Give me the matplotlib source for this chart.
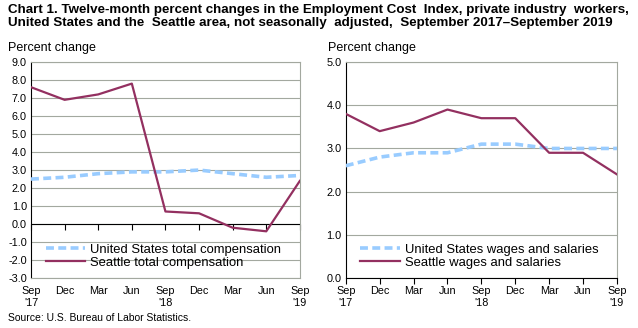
import numpy as np
import matplotlib.pyplot as plt

plt.rcParams['font.family'] = ['Liberation Sans', 'DejaVu Sans']

quarters = ["Sep\n'17", "Dec", "Mar", "Jun", "Sep\n'18", "Dec", "Mar", "Jun", "Sep\n'19"]

us_total = [2.5, 2.6, 2.8, 2.9, 2.9, 3.0, 2.8, 2.6, 2.7]
seattle_total = [7.6, 6.9, 7.2, 7.8, 0.7, 0.6, -0.2, -0.4, 2.4]

us_wages = [2.6, 2.8, 2.9, 2.9, 3.1, 3.1, 3.0, 3.0, 3.0]
seattle_wages = [3.8, 3.4, 3.6, 3.9, 3.7, 3.7, 2.9, 2.9, 2.4]

us_color = '#99CCFF'
sea_color = '#933060'
grid_color = '#A3A89F'

fig = plt.figure(figsize=(6.38, 3.28), dpi=100)

fig.text(0.013, 0.988, "Chart 1. Twelve-month percent changes in the Employment Cost  Index, private industry  workers,\n"
         "United States and the  Seattle area, not seasonally  adjusted,  September 2017\u2013September 2019",
         ha='left', va='top', fontsize=9.6, fontweight='bold', linespacing=1.1)

ax1 = fig.add_axes([0.0486, 0.152, 0.4214, 0.659])
ax2 = fig.add_axes([0.542, 0.152, 0.425, 0.659])

x = np.arange(len(quarters))


def style(ax, ymin, ymax, us, sea, us_lab, sea_lab):
    ax.plot(x, us, color=us_color, lw=2.6, dashes=(2.2, 1.2), label=us_lab, zorder=3)
    ax.plot(x, sea, color=sea_color, lw=1.6, label=sea_lab, zorder=4)
    ax.set_xlim(0, len(quarters) - 1)
    ax.set_ylim(ymin, ymax)
    ax.set_yticks(np.arange(ymin, ymax + 0.5, 1.0))
    ax.set_yticklabels(['%.1f' % v for v in np.arange(ymin, ymax + 0.5, 1.0)])
    ax.yaxis.grid(True, color=grid_color, lw=0.8)
    ax.set_axisbelow(True)
    ax.set_xticks(x)
    ax.set_xticklabels(quarters)
    ax.tick_params(axis='y', length=0, labelsize=7.8, pad=3)
    ax.tick_params(axis='x', labelsize=7.8, pad=4)
    for s in ['top', 'right']:
        ax.spines[s].set_color(grid_color)
        ax.spines[s].set_linewidth(0.8)
    ax.spines['left'].set_color('black')
    ax.spines['left'].set_linewidth(0.8)
    ax.legend(loc='lower left', bbox_to_anchor=(0.02, 0.0), frameon=False, fontsize=9.4,
              handlelength=3.0, handletextpad=0.4, labelspacing=0.1, borderaxespad=0.3)


style(ax1, -3.0, 9.0, us_total, seattle_total,
      'United States total compensation', 'Seattle total compensation')
style(ax2, 0.0, 5.0, us_wages, seattle_wages,
      'United States wages and salaries', 'Seattle wages and salaries')

# left chart: zero line with ticks, labels at the bottom
ax1.tick_params(axis='x', length=0, pad=6)
ax1.spines['bottom'].set_color(grid_color)
ax1.axhline(0, color='black', lw=0.8, zorder=2)
sec = ax1.secondary_xaxis(0.25)
sec.set_xticks(x)
sec.set_xticklabels([])
sec.tick_params(axis='x', length=4, width=0.8, direction='out')
sec.spines['bottom'].set_visible(False)

ax2.spines['bottom'].set_color('black')
ax2.spines['bottom'].set_linewidth(0.8)
ax2.tick_params(axis='x', length=4, width=0.8, direction='out', pad=2)

fig.text(0.013, 0.855, 'Percent change', fontsize=9, ha='left', va='center')
fig.text(0.514, 0.855, 'Percent change', fontsize=9, ha='left', va='center')
fig.text(0.013, 0.03, 'Source: U.S. Bureau of Labor Statistics.', fontsize=7.5, ha='left', va='center')

fig.savefig('out.png', dpi=100)
